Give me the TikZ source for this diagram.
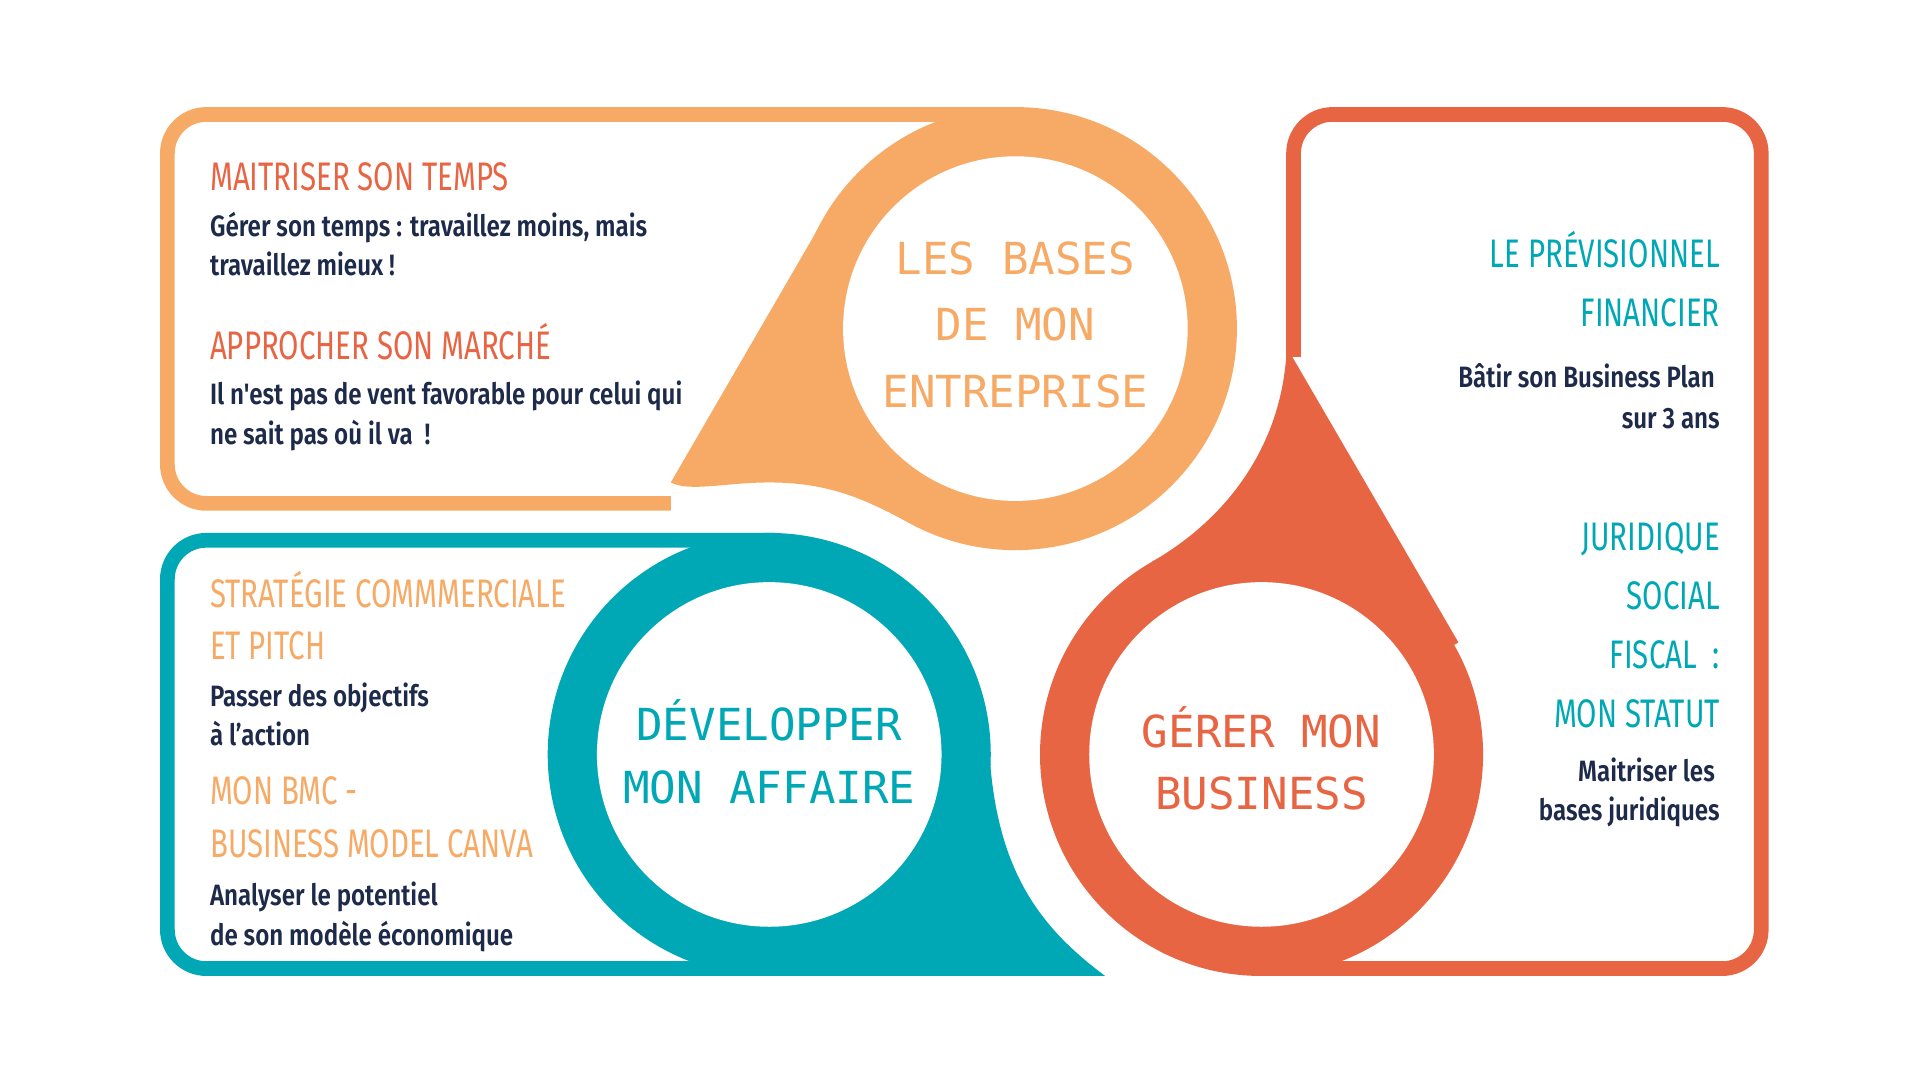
\documentclass[tikz,border=0pt]{standalone}
\usepackage{fontspec}
\newfontfamily\headf[FakeStretch=0.74]{Fira Sans}
\newfontfamily\bodyf[FakeStretch=0.82]{Fira Sans SemiBold}
\newfontfamily\monof{DejaVu Sans Mono}
\definecolor{cor}{HTML}{F6AA66}
\definecolor{cte}{HTML}{00A8B5}
\definecolor{cre}{HTML}{E86544}
\definecolor{cna}{HTML}{1E2A4A}
\tikzset{
 boxline/.style={line width=3.4pt,rounded corners=9pt},
 hd/.style={font=\headf\fontsize{9.2}{10}\selectfont,inner sep=0pt},
 bd/.style={font=\bodyf\fontsize{6.8}{8}\selectfont,text=cna,inner sep=0pt},
 mono/.style={font=\monof\fontsize{10.2}{11}\selectfont,inner sep=0pt,anchor=center},
}
\begin{document}
\begin{tikzpicture}[x=0.01cm,y=-0.01cm]
\useasboundingbox (0,0) rectangle (1560,877);
% orange
\draw[cor,boxline] (545,409) -- (136,409) -- (136,93) -- (825,93);
\fill[cor] (675,168) -- (545,392) .. controls (560,400) and (590,392) .. (625,392) .. controls (680,392) and (710,410) .. (745,428) -- (825,267) -- cycle;
\fill[cor] (825,267) circle (180);
\fill[white] (825,267) circle (140);
% teal
\draw[cte,boxline] (630,439) -- (136,439) -- (136,787) -- (630,787);
\fill[cte] (803,590) .. controls (805,700) and (840,750) .. (898,793) -- (625,793) -- (625,613) -- cycle;
\fill[cte] (625,613) circle (180);
\fill[white] (625,613) circle (140);
% red
\draw[cre,boxline] (1051,290) -- (1051,93) -- (1431,93) -- (1431,787) -- (1025,787);
\fill[cre] (1050,290) -- (1185,522) -- (1025,613) -- (935,457) .. controls (1000,420) and (1040,360) .. (1045,290) -- cycle;
\fill[cre] (1025,613) circle (180);
\fill[white] (1025,613) circle (140);
% circle texts
\node[mono,text=cor] (o1) at (825,210) {LES BASES};
\node[mono,text=cor] (o2) at (825,264) {DE MON};
\node[mono,text=cor] (o3) at (825,318) {ENTREPRISE};
\node[mono,text=cte] (t1) at (625,585) {DÉVELOPPER};
\node[mono,text=cte] (t2) at (625,640) {MON AFFAIRE};
\node[mono,text=cre] (r1) at (1025,591) {GÉRER MON};
\node[mono,text=cre] (r2) at (1025,645) {BUSINESS};
% left top
\node[hd,text=cre,anchor=base west] (a1) at (170,155) {MAITRISER SON TEMPS};
\node[bd,anchor=base west] (a2) at (170,192) {Gérer son temps : travaillez moins, mais};
\node[bd,anchor=base west] (a3) at (170,224) {travaillez mieux !};
\node[hd,text=cre,anchor=base west] (a4) at (170,292) {APPROCHER SON MARCHÉ};
\node[bd,anchor=base west] (a5) at (170,329) {Il n'est pas de vent favorable pour celui qui};
\node[bd,anchor=base west] (a6) at (170,361) {ne sait pas où il va\ \ !};
% left bottom
\node[hd,text=cor,anchor=base west] (b1) at (170,494) {STRATÉGIE COMMMERCIALE};
\node[hd,text=cor,anchor=base west] (b2) at (170,536) {ET PITCH};
\node[bd,anchor=base west] (b3) at (170,574) {Passer des objectifs};
\node[bd,anchor=base west] (b4) at (170,606) {à l’action};
\node[hd,text=cor,anchor=base west] (b5) at (170,654) {MON BMC -};
\node[hd,text=cor,anchor=base west] (b6) at (170,697) {BUSINESS MODEL CANVA};
\node[bd,anchor=base west] (b7) at (170,736) {Analyser le potentiel};
\node[bd,anchor=base west] (b8) at (170,768) {de son modèle économique};
% right
\node[hd,text=cte,anchor=base east] (c1) at (1398,217) {LE PRÉVISIONNEL};
\node[hd,text=cte,anchor=base east] (c2) at (1398,265) {FINANCIER};
\node[bd,anchor=base east] (c3) at (1394,315) {Bâtir son Business Plan};
\node[bd,anchor=base east] (c4) at (1398,348) {sur 3 ans};
\node[hd,text=cte,anchor=base east] (c5) at (1398,447) {JURIDIQUE};
\node[hd,text=cte,anchor=base east] (c6) at (1398,495) {SOCIAL};
\node[hd,text=cte,anchor=base east] (c7) at (1398,543) {FISCAL\ \ :};
\node[hd,text=cte,anchor=base east] (c8) at (1398,591) {MON STATUT};
\node[bd,anchor=base east] (c9) at (1394,635) {Maitriser les};
\node[bd,anchor=base east] (c10) at (1398,667) {bases juridiques};
\end{tikzpicture}
\end{document}
